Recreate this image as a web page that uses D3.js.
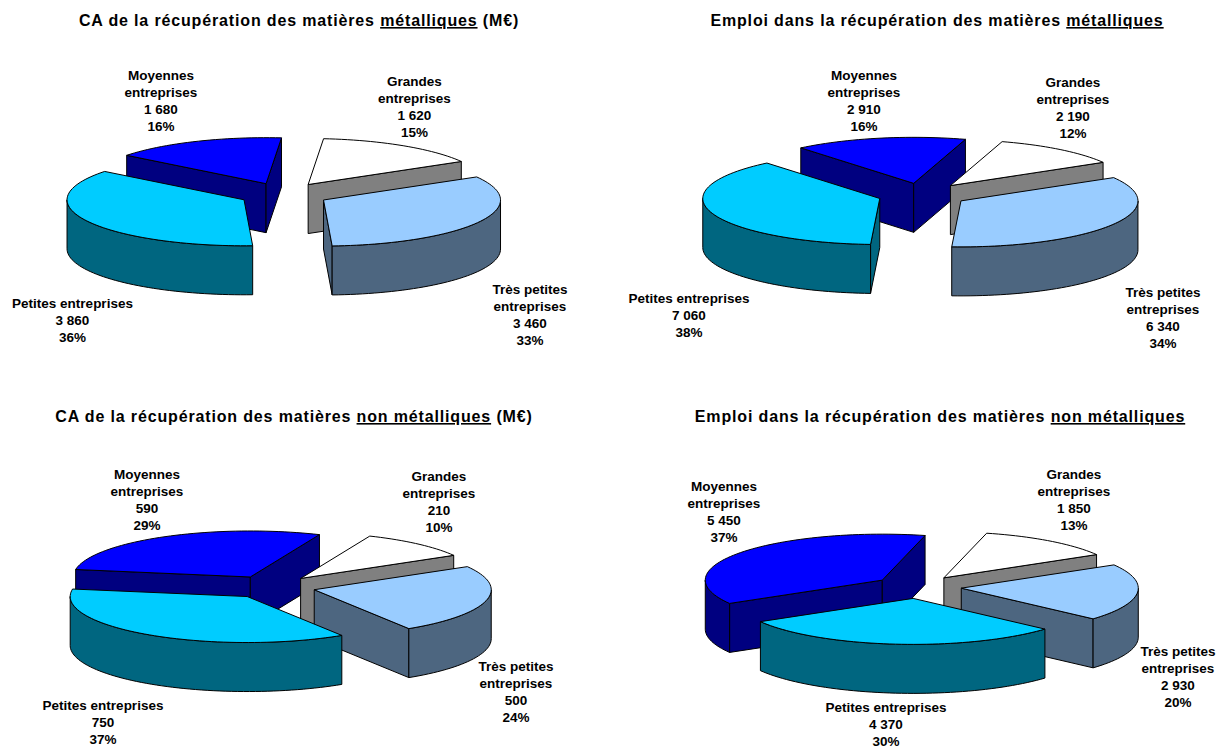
<!DOCTYPE html>
<html>
<head>
<meta charset="utf-8">
<script src="https://cdn.jsdelivr.net/npm/d3@7"></script>
<style>
  html, body { margin: 0; padding: 0; background: #fff; overflow: hidden; }
  svg { display: block; }
  text { font-family: "Liberation Sans", Arial, sans-serif; font-weight: bold; fill: #000; }
  .label { font-size: 13.5px; text-anchor: middle; }
  .title { font-size: 16px; letter-spacing: 0.85px; text-anchor: middle; }
  .u { text-decoration: underline; }
  .face { stroke: #000; stroke-width: 1; stroke-linejoin: round; }
</style>
</head>
<body>
<div id="main"></div>
<script>
const categories = ["Grandes entreprises", "Très petites entreprises", "Petites entreprises", "Moyennes entreprises"];
const label_lines = [["Grandes", "entreprises"], ["Très petites", "entreprises"], ["Petites entreprises"], ["Moyennes", "entreprises"]];

const ca_metal = [1620, 3460, 3860, 1680];
const emploi_metal = [2190, 6340, 7060, 2910];
const ca_non_metal = [210, 500, 750, 590];
const emploi_non_metal = [1850, 2930, 4370, 5450];

const top_colors = ["#ffffff", "#99ccff", "#00ccff", "#0000ff"];
const side_colors = ["#808080", "#4d6680", "#006680", "#000080"];

const __CONFIG__ = {
  main_id: "main",
  width: 1219,
  height: 749,
  rx: 177,
  ry: 46,
  depth: 49,
  line_height: 17
}

// placement of each pie: centre, first slice angle, explosion, title and label anchors
const charts = [
  { values: ca_metal, cx: 284, cy: 194.4, start: 5, explode: 45,
    title: ["CA de la récupération des matières ", "métalliques", " (M€)"], title_x: 299, title_y: 26,
    label_pos: [[414.5, 86], [530, 294], [72.5, 308], [161, 80]] },
  { values: emploi_metal, cx: 922.5, cy: 194.8, start: 17, explode: 45,
    title: ["Emploi dans la récupération des matières ", "métalliques"], title_x: 937, title_y: 26,
    label_pos: [[1073, 87], [1163, 297], [689, 303], [864, 80]] },
  { values: ca_non_metal, cx: 271.5, cy: 587, start: 23, explode: 44,
    title: ["CA de la récupération des matières ", "non métalliques", " (M€)"], title_x: 294, title_y: 422,
    label_pos: [[439, 481], [516, 671], [103, 710], [147, 479]] },
  { values: emploi_non_metal, cx: 917.5, cy: 587, start: 14, explode: 44,
    title: ["Emploi dans la récupération des matières ", "non métalliques"], title_x: 940, title_y: 422,
    label_pos: [[1074, 479], [1178, 656], [886, 712], [724, 491]] }
];

const top_color = d3.scaleOrdinal().domain(categories).range(top_colors);
const side_color = d3.scaleOrdinal().domain(categories).range(side_colors);
const fmt_value = d3.formatLocale({ thousands: " ", grouping: [3], decimal: ",", currency: ["", ""] }).format(",d");
const fmt_share = d3.format(".0%");
const line_gen = d3.line();
const deg = Math.PI / 180;

function ellipse_point(ox, oy, a) {
  return [ox + __CONFIG__.rx * Math.sin(a), oy - __CONFIG__.ry * Math.cos(a)];
}

function arc_points(ox, oy, a0, a1) {
  const n = Math.max(2, Math.ceil(Math.abs(a1 - a0) / (2 * deg)));
  return d3.range(n + 1).map(i => ellipse_point(ox, oy, a0 + (a1 - a0) * i / n));
}

function mod_turn(a) {
  return ((a % (2 * Math.PI)) + 2 * Math.PI) % (2 * Math.PI);
}

function draw_slice(g, d, ox, oy) {
  const depth = __CONFIG__.depth;
  const side = side_color(d.data.name);
  const wall = (a) => {
    const p = ellipse_point(ox, oy, a);
    return line_gen([[ox, oy], p, [p[0], p[1] + depth], [ox, oy + depth]]) + "Z";
  };
  const add_face = (path, fill) => g.append("path").attr("class", "face").attr("d", path).attr("fill", fill);

  // only the faces turned towards the viewer get drawn
  if (mod_turn(d.startAngle) > Math.PI) add_face(wall(d.startAngle), side);
  if (mod_turn(d.endAngle) < Math.PI) add_face(wall(d.endAngle), side);

  const a0 = Math.max(d.startAngle, Math.PI / 2);
  const a1 = Math.min(d.endAngle, 3 * Math.PI / 2);
  if (a1 > a0) {
    const upper = arc_points(ox, oy, a0, a1);
    const lower = arc_points(ox, oy + depth, a1, a0);
    add_face(line_gen(upper.concat(lower)) + "Z", side);
  }

  const surface = [[ox, oy]].concat(arc_points(ox, oy, d.startAngle, d.endAngle));
  add_face(line_gen(surface) + "Z", top_color(d.data.name));
}

function draw_chart(svg, chart) {
  const total = d3.sum(chart.values);
  const table = categories.map((name, i) => ({ name, value: chart.values[i], index: i }));
  const arcs = d3.pie()
    .sort(null)
    .value(d => d.value)
    .startAngle(chart.start * deg)
    .endAngle(chart.start * deg + 2 * Math.PI)(table);
  const ratio = __CONFIG__.ry / __CONFIG__.rx;

  // back slices first so the front ones cover them
  const ordered = arcs.slice().sort((a, b) =>
    Math.cos((b.startAngle + b.endAngle) / 2) - Math.cos((a.startAngle + a.endAngle) / 2));

  const g = svg.append("g");
  for (const d of ordered) {
    const mid = (d.startAngle + d.endAngle) / 2;
    const ox = chart.cx + chart.explode * Math.sin(mid);
    const oy = chart.cy - chart.explode * ratio * Math.cos(mid);
    draw_slice(g.append("g"), d, ox, oy);
  }

  for (const d of arcs) {
    const [x, y] = chart.label_pos[d.data.index];
    const lines = label_lines[d.data.index].concat([fmt_value(d.value), fmt_share(d.value / total)]);
    const t = g.append("text").attr("class", "label");
    lines.forEach((s, i) => {
      t.append("tspan").attr("x", x).attr("y", y + i * __CONFIG__.line_height).text(s);
    });
  }

  const title = svg.append("text").attr("class", "title")
    .attr("x", chart.title_x).attr("y", chart.title_y);
  chart.title.forEach((s, i) => {
    const span = title.append("tspan").text(s);
    if (i == 1) span.attr("class", "u");
  });
}

const svg = d3.select(`#${__CONFIG__.main_id}`).append("svg")
  .attr("width", __CONFIG__.width)
  .attr("height", __CONFIG__.height);

for (const chart of charts) {
  draw_chart(svg, chart);
}
</script>
</body>
</html>
